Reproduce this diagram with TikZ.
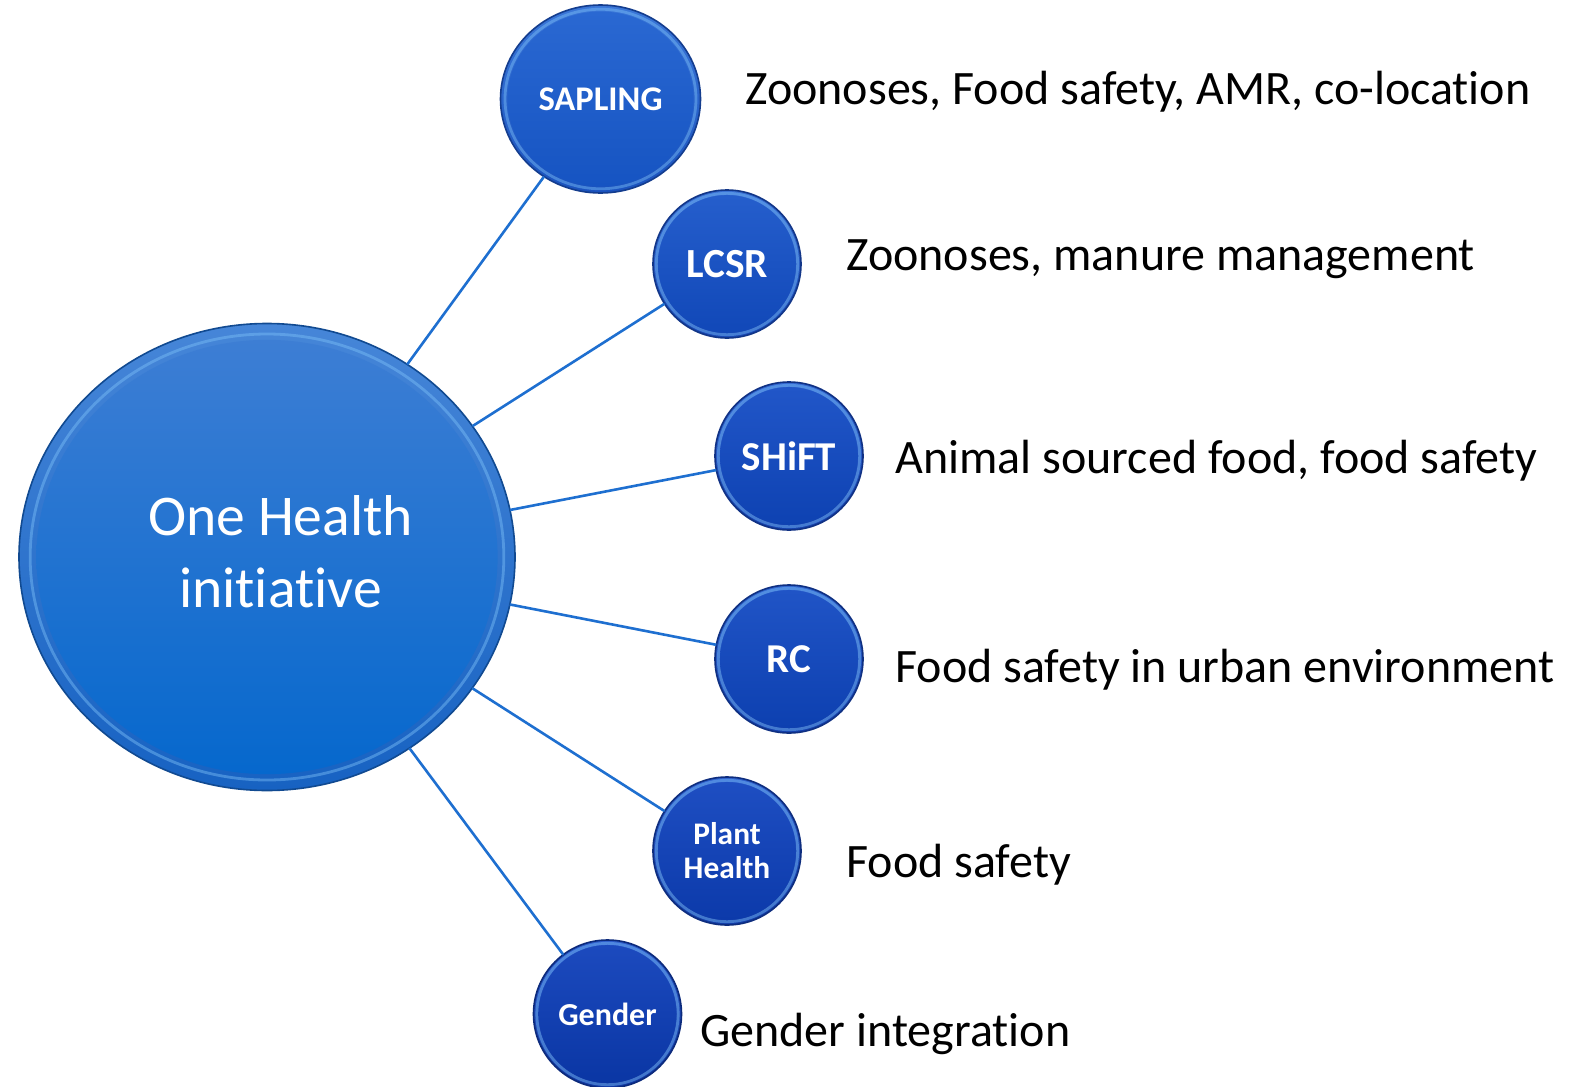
\documentclass[tikz,border=0pt]{standalone}
\usepackage{fontspec}
\setmainfont{Carlito}[RawFeature={-liga}]
\usetikzlibrary{shapes.geometric,calc}
\definecolor{linkblue}{HTML}{1E6FD0}
\definecolor{hl}{HTML}{7CC0F8}
\definecolor{mA}{HTML}{4686D8}\definecolor{mB}{HTML}{1762C2}\definecolor{mC}{HTML}{3D7ED4}\definecolor{mD}{HTML}{0668CD}
\definecolor{sA}{HTML}{3A76D8}\definecolor{sB}{HTML}{1A52BE}\definecolor{sC}{HTML}{2A68D2}\definecolor{sD}{HTML}{1654C2}
\definecolor{lA}{HTML}{366ED4}\definecolor{lB}{HTML}{1848B6}\definecolor{lC}{HTML}{255ECC}\definecolor{lD}{HTML}{1148B8}
\definecolor{hA}{HTML}{3268D2}\definecolor{hB}{HTML}{1642B0}\definecolor{hC}{HTML}{2156C8}\definecolor{hD}{HTML}{0E42B2}
\definecolor{rA}{HTML}{3066D0}\definecolor{rB}{HTML}{1440AE}\definecolor{rC}{HTML}{2054C6}\definecolor{rD}{HTML}{0D40B0}
\definecolor{pA}{HTML}{2E60CE}\definecolor{pB}{HTML}{123CA8}\definecolor{pC}{HTML}{1E4EC2}\definecolor{pD}{HTML}{0C3AAA}
\definecolor{gA}{HTML}{2C5CCC}\definecolor{gB}{HTML}{1038A4}\definecolor{gC}{HTML}{1C4ABE}\definecolor{gD}{HTML}{0A36A4}
\begin{document}
\begin{tikzpicture}[x=0.5pt,y=-0.5pt,
  bub/.style={ellipse, inner sep=0pt, outer sep=0pt,
    shade, top color=#1A, bottom color=#1B, draw=#1B!75!black, line width=0.8pt,
    text=white, font=\bfseries, align=center,
    path picture={
      \draw[hl, line width=1.4pt, opacity=.45]
        let \p1=(path picture bounding box.north east),
            \p2=(path picture bounding box.center) in
        (\p2) ellipse [x radius={0.955*(\x1-\x2)}, y radius={0.955*(\y1-\y2)}];
      \shade[top color=#1C, bottom color=#1D]
        let \p1=(path picture bounding box.north east),
            \p2=(path picture bounding box.center) in
        (\p2) ellipse [x radius={0.93*(\x1-\x2)}, y radius={0.93*(\y1-\y2)}];
    }},
  conn/.style={linkblue, line width=1.3pt},
  lbl/.style={anchor=base west, text=black, inner sep=0pt, font=\fontsize{24}{28}\selectfont},
  ]
\path[use as bounding box, fill=white] (0,0) rectangle (1576,1087);

% central bubble
\node[bub=m, minimum width=248pt, minimum height=233.5pt] (main) at (267,557) {};
\node[text=white, align=center, inner sep=0pt, font=\fontsize{28.8}{36}\selectfont] (mainlbl) at (280.5,552) {One Health\\initiative};

% satellites
\node[bub=s, minimum width=100pt, minimum height=94pt, font=\bfseries\fontsize{17.3}{20}\selectfont] (sap) at (600.5,99) {SAPLING};
\node[bub=l, minimum width=74pt, minimum height=74pt, font=\bfseries\fontsize{20.7}{24}\selectfont] (lcsr) at (727,264) {LCSR};
\node[bub=h, minimum width=74pt, minimum height=74pt, font=\bfseries\fontsize{20.5}{24}\selectfont] (shift) at (789,456) {SHiFT};
\node[bub=r, minimum width=74pt, minimum height=74pt, font=\bfseries\fontsize{20.5}{24}\selectfont] (rc) at (789,659) {RC};
\node[bub=p, minimum width=74pt, minimum height=74pt, font=\bfseries\fontsize{15.7}{17}\selectfont] (plant) at (727,851) {Plant\\Health};
\node[bub=g, minimum width=74pt, minimum height=74pt, font=\bfseries\fontsize{16}{19}\selectfont] (gender) at (607.5,1014) {Gender};

% connectors
\foreach \s in {sap,lcsr,shift,rc,plant,gender}
  \draw[conn] (main) -- (\s);

% labels
\node[lbl] (t1) at (745,104) {Zoonoses, Food safety, AMR, co-location};
\node[lbl] (t2) at (846,270) {Zoonoses, manure management};
\node[lbl] (t3) at (895,473) {Animal sourced food, food safety};
\node[lbl] (t4) at (895,682) {Food safety in urban environment};
\node[lbl] (t5) at (846,877) {Food safety};
\node[lbl] (t6) at (700,1046) {Gender integration};
\end{tikzpicture}
\end{document}
